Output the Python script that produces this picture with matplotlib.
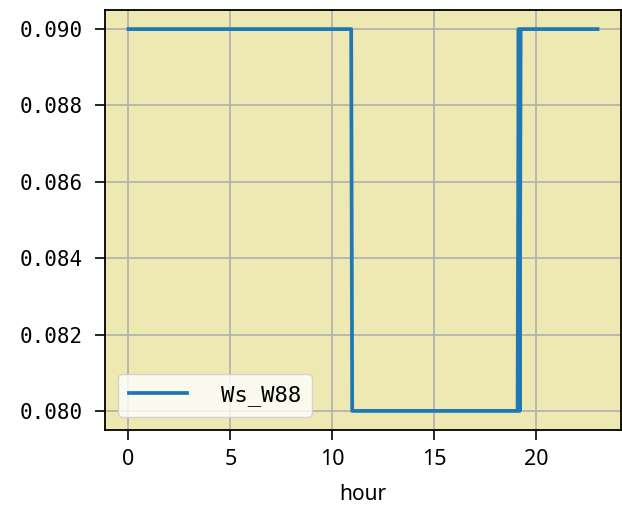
import matplotlib
matplotlib.use("Agg")
import matplotlib.pyplot as plt

hours = [0, 10.92, 10.97, 19.08, 19.13, 19.18, 19.23, 23]
ws_w88 = [0.09, 0.09, 0.08, 0.08, 0.09, 0.08, 0.09, 0.09]
series_label = "Ws_W88"
x_label = "hour"
y_ticks = [0.080, 0.082, 0.084, 0.086, 0.088, 0.090]
x_ticks = [0, 5, 10, 15, 20]

fig = plt.figure(figsize=(6.22, 5.2), dpi=100)
ax = fig.add_axes([105/622, 1 - 430/520, (621-105)/622, (430-10)/520])
ax.set_facecolor("#EEE9B2")
ax.plot(hours, ws_w88, color="#1f77b4", lw=2.7, label=series_label)
ax.grid(True, color="#b0b0b0", lw=1.2)
ax.set_axisbelow(True)
ax.set_yticks(y_ticks)
ax.set_yticklabels([f"{v:.3f}" for v in y_ticks], family="DejaVu Sans Mono", fontsize=15)
ax.set_xticks(x_ticks)
ax.set_xticklabels([str(v) for v in x_ticks], family="Noto Sans", fontsize=15.5)
ax.set_xlabel(x_label, family="Noto Sans", fontsize=15, labelpad=10)
ax.tick_params(axis="y", length=7, width=1.2, pad=9)
ax.tick_params(axis="x", length=7, width=1.2, pad=7)
for s in ax.spines.values():
    s.set_linewidth(1.3)
ax.legend(loc="lower left", prop={"family": "DejaVu Sans Mono", "size": 16},
          handlelength=2.6, handletextpad=1.5, borderaxespad=0.6, borderpad=0.5)
fig.savefig("out.png", dpi=100)
